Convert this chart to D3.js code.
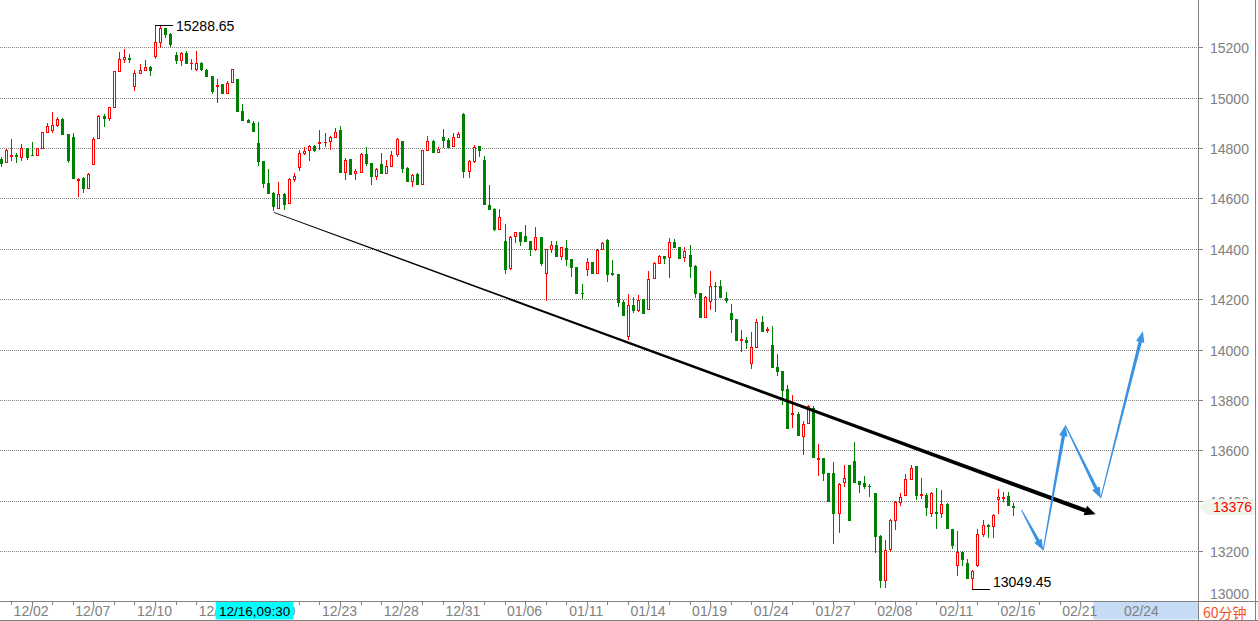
<!DOCTYPE html>
<html><head><meta charset="utf-8">
<script src="https://cdn.jsdelivr.net/npm/d3@7"></script>
<style>body{margin:0;background:#fff;overflow:hidden}svg{display:block}</style>
</head><body><svg id="c" width="1258" height="621"></svg>
<script>
// ---- data (60-minute bars) ----
const opens=[14757,14743,14769,14771,14766,14800,14772,14772,14800,14865,14872,14893,14915,14855,14844,14675,14681,14642,14735,14839,14927,14920,14964,15107,15154,15156,15048,15099,15111,15121,15167,15222,15276,15253,15170,15150,15179,15136,15114,15138,15111,15086,15048,15054,15020,15061,15074,14947,14911,14901,14821,14749,14662,14623,14561,14617,14580,14677,14726,14779,14792,14809,14820,14823,14829,14845,14872,14706,14755,14700,14706,14776,14742,14690,14737,14702,14730,14775,14828,14722,14670,14697,14656,14792,14828,14786,14845,14832,14808,14845,14935,14710,14750,14808,14752,14574,14558,14478,14431,14325,14452,14465,14451,14431,14399,14448,14305,14399,14415,14372,14402,14358,14326,14226,14318,14349,14305,14398,14437,14303,14300,14190,14055,14177,14157,14199,14162,14283,14342,14371,14366,14426,14408,14366,14375,14331,14223,14130,14192,14254,14252,14206,14146,14121,14038,14040,13945,14011,14108,14078,14018,13932,13914,13843,13744,13746,13657,13707,13770,13566,13568,13510,13512,13352,13475,13541,13557,13477,13471,13459,13431,13259,13087,13210,13325,13395,13422,13488,13537,13424,13422,13353,13355,13353,13389,13286,13144,13197,13151,13095,13144,13266,13305,13299,13406,13411,13419,13378];
const highs=[14766,14796,14835,14782,14816,14801,14825,14801,14864,14898,14943,14922,14918,14856,14861,14682,14684,14700,14845,14931,14936,14964,15107,15183,15193,15172,15110,15133,15150,15126,15288.65,15286,15278,15256,15183,15183,15185,15152,15187,15142,15114,15086,15073,15055,15066,15114,15075,14975,14914,14909,14902,14750,14716,14625,14665,14620,14680,14700,14792,14805,14811,14812,14872,14861,14848,14878,14888,14759,14756,14717,14782,14805,14742,14720,14782,14752,14788,14841,14830,14726,14697,14700,14792,14848,14832,14803,14874,14839,14858,14862,14940,14752,14812,14808,14768,14653,14563,14558,14498,14451,14468,14468,14494,14431,14488,14448,14398,14431,14431,14408,14435,14359,14327,14260,14364,14349,14398,14428,14438,14355,14300,14196,14219,14207,14216,14200,14312,14349,14375,14372,14441,14438,14408,14408,14415,14335,14224,14213,14312,14269,14276,14227,14180,14121,14077,14051,14068,14121,14133,14090,14093,13982,13915,13859,13819,13753,13716,13782,13775,13627,13569,13511,13552,13471,13541,13541,13634,13478,13497,13468,13431,13263,13246,13329,13398,13429,13508,13541,13537,13492,13429,13435,13452,13442,13390,13287,13279,13199,13170,13124,13287,13325,13306,13349,13445,13433,13435,13391];
const lows=[14726,14739,14749,14742,14749,14753,14770,14768,14796,14861,14858,14885,14856,14742,14679,14604,14623,14637,14733,14835,14885,14909,14960,15103,15139,15138,15028,15099,15110,15086,15154,15198,15238,15202,15134,15127,15133,15110,15107,15105,15086,15015,14980,15016,15016,15058,14947,14909,14898,14868,14730,14640,14620,14550,14557,14554,14578,14666,14710,14772,14749,14786,14792,14805,14792,14845,14706,14673,14693,14673,14706,14730,14653,14673,14700,14700,14726,14766,14702,14670,14646,14656,14656,14792,14785,14785,14799,14805,14805,14839,14682,14682,14739,14766,14574,14558,14472,14474,14302,14316,14422,14411,14428,14372,14392,14333,14192,14382,14372,14355,14333,14289,14220,14199,14293,14300,14300,14395,14269,14292,14170,14137,14037,14147,14150,14141,14160,14279,14338,14339,14285,14405,14359,14348,14285,14205,14126,14124,14157,14150,14207,14186,14064,14035,13991,14002,13921,14011,14074,14064,13931,13896,13779,13686,13687,13660,13583,13706,13574,13498,13479,13398,13230,13272,13455,13323,13475,13431,13448,13413,13194,13054,13054,13197,13283,13378,13419,13485,13402,13406,13340,13336,13287,13332,13289,13210,13101,13140,13095,13049.45,13137,13256,13252,13252,13346,13395,13378,13340];
const closes=[14741,14792,14772,14768,14800,14766,14771,14800,14862,14889,14891,14915,14857,14753,14680,14678,14642,14697,14835,14927,14920,14962,15105,15152,15160,15154,15097,15110,15121,15111,15220,15276,15253,15214,15150,15179,15139,15139,15138,15114,15086,15028,15051,15019,15057,15113,14948,14911,14902,14869,14749,14662,14623,14570,14617,14578,14677,14690,14779,14788,14808,14792,14823,14826,14843,14862,14706,14752,14697,14709,14776,14742,14690,14717,14702,14729,14772,14836,14722,14670,14693,14656,14792,14828,14785,14796,14832,14805,14845,14856,14709,14748,14803,14792,14576,14558,14478,14525,14320,14448,14465,14431,14431,14399,14448,14342,14398,14415,14372,14406,14359,14329,14225,14223,14349,14305,14395,14422,14300,14301,14190,14137,14177,14157,14196,14146,14279,14345,14371,14364,14426,14408,14362,14391,14333,14225,14130,14210,14252,14252,14207,14196,14121,14037,14041,14031,14011,14108,14074,14080,13932,13916,13839,13687,13747,13660,13703,13777,13574,13568,13510,13398,13352,13468,13492,13325,13475,13468,13458,13457,13259,13087,13206,13325,13395,13413,13488,13528,13422,13426,13375,13429,13353,13389,13290,13223,13197,13170,13095,13121,13266,13305,13299,13345,13413,13413,13382,13376];
const dateLabels=["12/02","12/07","12/10","12/15","12/20","12/23","12/28","12/31","01/06","01/11","01/14","01/19","01/24","01/27","02/08","02/11","02/16","02/21","02/24"];
const yTicks=[13000,13200,13400,13600,13800,14000,14200,14400,14600,14800,15000,15200];
const highBar=30, lowBar=189;
const cursorBar=46, cursorLabel="12/16,09:30";
const lastPrice=13376;
const trendLine=[[53,14545],[212.9,13346]];
const forecast=[[198.5,13362],[202.7,13203],[207.0,13700],[213.9,13410],[222.1,14073]];
const futureStartBar=212.4;

// ---- scales ----
const svg=d3.select('#c');
const W=1258,H=621, plotR=1198.5, axisY=601.5;
svg.append('rect').attr('width',W).attr('height',H).attr('fill','#fff');
const x=d3.scaleLinear().domain([0,222]).range([1.3,1142.4]);
const y=d3.scaleLinear().domain([13000,15200]).range([601.5,47.3]);
const FONT='"Liberation Sans", Arial, sans-serif';
const GRAY='#808080';

// gridlines
const g=svg.append('g');
yTicks.filter(v=>v>13000).forEach(v=>{
  const yy=Math.round(y(v))+0.5;
  g.append('line').attr('x1',0).attr('x2',plotR-0.5).attr('y1',yy).attr('y2',yy)
   .attr('stroke',GRAY).attr('stroke-dasharray','1,1').attr('shape-rendering','crispEdges');
});

// candles
const cg=svg.append('g').attr('shape-rendering','crispEdges');
const RED='#ff0000', GREEN='#008000';
opens.forEach((o,i)=>{
  const c=closes[i], h=highs[i], l=lows[i];
  const p=Math.floor(x(i));
  const up=c>=o, col=up?RED:GREEN;
  const yh=Math.round(y(h)), yl=Math.round(y(l));
  cg.append('rect').attr('x',p).attr('y',yh).attr('width',1).attr('height',Math.max(1,yl-yh)).attr('fill',col);
  const t=Math.round(y(Math.max(o,c))), b=Math.round(y(Math.min(o,c)));
  if(b-t<1){
    cg.append('rect').attr('x',p-1).attr('y',t).attr('width',3).attr('height',1).attr('fill',col);
  } else {
    cg.append('rect').attr('x',p-1).attr('y',t).attr('width',3).attr('height',b-t+1).attr('fill',col);
    if(up && b-t>=2) cg.append('rect').attr('x',p).attr('y',t+1).attr('width',1).attr('height',b-t-1).attr('fill','#fff');
  }
});

// high / low markers
{
  const p=Math.floor(x(highBar)), yy=Math.round(y(highs[highBar]))+0.5;
  svg.append('line').attr('x1',p).attr('x2',p+18).attr('y1',yy).attr('y2',yy).attr('stroke','#000').attr('shape-rendering','crispEdges');
  svg.append('text').attr('x',p+21).attr('y',yy).attr('dominant-baseline','central')
    .attr('font-family',FONT).attr('font-size',14).attr('fill','#000').text(highs[highBar].toFixed(2));
  const q=Math.floor(x(lowBar)), y2=Math.round(y(lows[lowBar]))+0.5;
  svg.append('line').attr('x1',q).attr('x2',q+18).attr('y1',y2).attr('y2',y2).attr('stroke','#000').attr('shape-rendering','crispEdges');
  svg.append('text').attr('x',q+21).attr('y',y2-3).attr('font-family',FONT).attr('font-size',14).attr('fill','#000').text(lows[lowBar].toFixed(2));
}

// tapered arrows
function arrowPath(a,b,w0,w1,hl,hw){
  const dx=b[0]-a[0], dy=b[1]-a[1], L=Math.hypot(dx,dy), ux=dx/L, uy=dy/L, nx=-uy, ny=ux;
  const bx=b[0]-ux*hl, by=b[1]-uy*hl;
  const pts=[[a[0]+nx*w0/2,a[1]+ny*w0/2],[bx+nx*w1/2,by+ny*w1/2],[bx+nx*hw/2,by+ny*hw/2],[b[0],b[1]],
             [bx-nx*hw/2,by-ny*hw/2],[bx-nx*w1/2,by-ny*w1/2],[a[0]-nx*w0/2,a[1]-ny*w0/2]];
  return 'M'+pts.map(q=>q[0].toFixed(2)+','+q[1].toFixed(2)).join('L')+'Z';
}
const P=d=>[x(d[0]),y(d[1])];
svg.append('path').attr('d',arrowPath(P(trendLine[0]),P(trendLine[1]),0.9,4.2,11,10)).attr('fill','#000');
for(let i=0;i<forecast.length-1;i++){
  svg.append('path').attr('d',arrowPath(P(forecast[i]),P(forecast[i+1]),1,3.4,11,8.5)).attr('fill','#3a92e2');
}

// axes frame
const fr=svg.append('g').attr('stroke',GRAY).attr('shape-rendering','crispEdges');
fr.append('line').attr('x1',plotR).attr('x2',plotR).attr('y1',0).attr('y2',H);
fr.append('line').attr('x1',0).attr('x2',W).attr('y1',axisY).attr('y2',axisY);
fr.append('line').attr('x1',0).attr('x2',W).attr('y1',620.5).attr('y2',620.5);
fr.append('line').attr('x1',1255.5).attr('x2',1255.5).attr('y1',0).attr('y2',H);

// y axis ticks & labels
yTicks.forEach(v=>{
  const yy=Math.round(y(v))+0.5;
  if(v>13000) fr.append('line').attr('x1',plotR).attr('x2',1203).attr('y1',yy).attr('y2',yy);
  svg.append('text').attr('x',1210).attr('y',Math.min(yy,594)).attr('dominant-baseline','central')
    .attr('font-family',FONT).attr('font-size',14).attr('fill',GRAY).text(v);
});

// future region on x axis
svg.append('rect').attr('x',x(futureStartBar)).attr('y',602).attr('width',plotR-0.5-x(futureStartBar)).attr('height',17.5)
  .attr('fill','#c6dbf5').attr('rx',2);

// x ticks (day boundaries)
for(let b=2;x(b)<plotR-2;b+=4){
  const px=Math.floor(x(b))+0.5;
  fr.append('line').attr('x1',px).attr('x2',px).attr('y1',602).attr('y2',605);
}
dateLabels.forEach((t,i)=>{
  svg.append('text').attr('x',x(6+12*i)-1).attr('y',611).attr('text-anchor','middle').attr('dominant-baseline','central')
    .attr('font-family',FONT).attr('font-size',14).attr('fill',GRAY).text(t);
});

// cursor label
{
  const cx=x(cursorBar)+16.8;
  svg.append('rect').attr('x',cx-38.8).attr('y',602).attr('width',77.6).attr('height',17.5).attr('fill','#00ffff');
  svg.append('text').attr('x',cx).attr('y',611).attr('text-anchor','middle').attr('dominant-baseline','central')
    .attr('font-family',FONT).attr('font-size',13.5).attr('fill','#000').text(cursorLabel);
}

// last price tag
{
  const yy=y(lastPrice)+0.3;
  svg.append('path').attr('d',`M1199,${yy}L1207,${yy-8}L1253.5,${yy-8}L1253.5,${yy+8}L1207,${yy+8}Z`).attr('fill','#eef6ec');
  svg.append('text').attr('x',1213).attr('y',yy).attr('dominant-baseline','central')
    .attr('font-family',FONT).attr('font-size',14).attr('fill','#ff0000').text(lastPrice);
}

// period label
svg.append('text').attr('x',1203).attr('y',611.5).attr('dominant-baseline','central')
  .attr('font-family','"Noto Sans CJK SC", sans-serif').attr('font-size',14).attr('fill','#f0501e').text('60分钟');
</script></body></html>
